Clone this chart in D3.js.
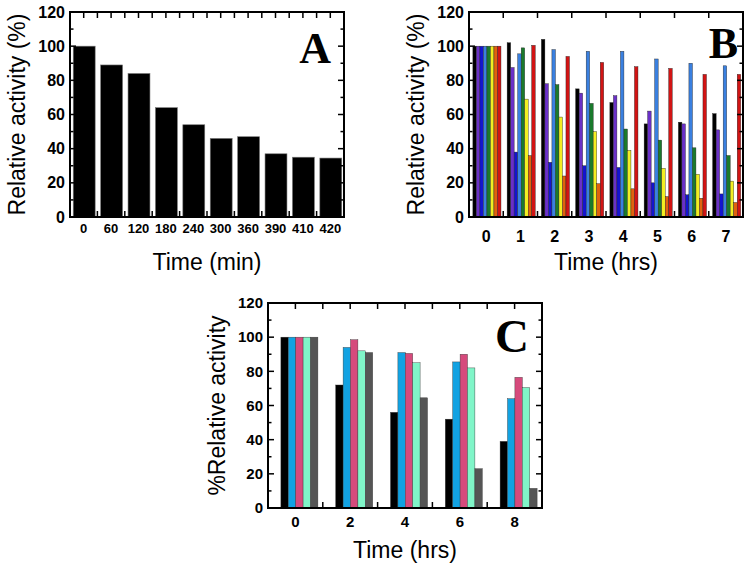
<!DOCTYPE html>
<html><head><meta charset="utf-8">
<script src="https://cdn.jsdelivr.net/npm/d3@7/dist/d3.min.js"></script>
<style>body{margin:0;background:#fff}svg{display:block}</style>
</head><body>
<svg id="c" width="750" height="565"></svg>
<script>
// ---- Data ----
const timeA = ["0","60","120","180","240","300","360","390","410","420"];
const activityA = [100, 89, 84, 64, 54, 46, 47, 37, 35, 34.5];

const timeB = ["0","1","2","3","4","5","6","7"];
const seriesBNames = ["black","purple","blue","lightblue","green","yellow","orange","red"];
const seriesBColors = ["#000000","#6a30c8","#1414d0","#3a80e0","#1a7a2c","#f2ee22","#e0620e","#d21414"];
const bBlack     = [100, 102, 104, 75, 67, 54.5, 55.5, 60.5];
const bPurple    = [100, 87.5, 78, 72.5, 71, 62, 54.5, 51];
const bBlue      = [100, 38, 32, 30, 29, 20, 13, 13.5];
const bLightBlue = [100, 95.5, 98, 97, 97, 92.5, 90, 88.5];
const bGreen     = [100, 99, 77.5, 66.5, 51.5, 45, 40.5, 36];
const bYellow    = [100, 69, 58.5, 50, 39, 28.5, 25, 21];
const bOrange    = [100, 36, 24, 19.5, 16.5, 12, 11, 8.5];
const bRed       = [100, 100.5, 94, 90.5, 88, 87, 83.5, 83.5];

const timeC = ["0","2","4","6","8"];
const seriesCColors = ["#000000","#12a2e2","#d64a7c","#80f5c8","#555555"];
const cBlack = [100, 72, 56, 52, 39];
const cBlue  = [100, 94, 91, 85.5, 64];
const cPink  = [100, 98.5, 90.5, 90, 76.5];
const cAqua  = [100, 92, 85, 82, 70.5];
const cGray  = [100, 91, 64.5, 23, 11.5];

const yTicks = [0, 20, 40, 60, 80, 100, 120];

const svg = d3.select("#c");
const FONT = "'Liberation Sans', Arial, sans-serif";

function frame(g, x0, x1, y0, y1, y, bandScale, topHalf, label, labelSize, xTitle, yTitle, opts) {
  d3.range(0, 121, 10).forEach(v => {
    const len = v % 20 === 0 ? 6 : 3.5;
    g.append("line").attr("x1", x0).attr("x2", x0 + len).attr("y1", y(v)).attr("y2", y(v)).attr("stroke", "#000").attr("stroke-width", 1.5);
    g.append("line").attr("x1", x1).attr("x2", x1 - len).attr("y1", y(v)).attr("y2", y(v)).attr("stroke", "#000").attr("stroke-width", 1.5);
  });
  const dom = bandScale.domain();
  const step = bandScale.step();
  for (let i = 1; i < dom.length; i++) {
    const xx = bandScale(dom[i]);
    g.append("line").attr("x1", xx).attr("x2", xx).attr("y1", y1).attr("y2", y1 - 6).attr("stroke", "#000").attr("stroke-width", 1.5);
  }
  const n = topHalf ? dom.length * 2 : dom.length;
  const st = topHalf ? step / 2 : step;
  for (let k = 1; k < n; k++) {
    const xx = x0 + st * k;
    g.append("line").attr("x1", xx).attr("x2", xx).attr("y1", y0).attr("y2", y0 + 6).attr("stroke", "#000").attr("stroke-width", 1.5);
  }
  g.append("rect").attr("x", x0).attr("y", y0).attr("width", x1 - x0).attr("height", y1 - y0)
    .attr("fill", "none").attr("stroke", "#000").attr("stroke-width", 2);
  const yAxis = d3.axisLeft(y).tickValues(yTicks).tickSize(0).tickPadding(opts.yPad);
  const ya = g.append("g").attr("transform", `translate(${x0},0)`).call(yAxis);
  ya.select(".domain").remove();
  ya.selectAll("text").attr("font-family", FONT).attr("font-weight", "bold").attr("font-size", opts.yFont).attr("fill", "#000");
  const xAxis = d3.axisBottom(bandScale).tickSize(0).tickPadding(opts.xPad);
  const xa = g.append("g").attr("transform", `translate(0,${y1})`).call(xAxis);
  xa.select(".domain").remove();
  xa.selectAll("text").attr("font-family", FONT).attr("font-weight", "bold").attr("font-size", opts.xFont).attr("fill", "#000");
  g.append("text").attr("x", (x0 + x1) / 2).attr("y", opts.xTitleY).attr("text-anchor", "middle")
    .attr("font-family", FONT).attr("font-size", 23).attr("fill", "#000").text(xTitle);
  g.append("text").attr("transform", `translate(${opts.yTitleX},${(y0 + y1) / 2}) rotate(-90)`).attr("text-anchor", "middle")
    .attr("font-family", FONT).attr("font-size", 23).attr("fill", "#000").text(yTitle);
  g.append("text").attr("x", opts.labelX).attr("y", opts.labelY).attr("text-anchor", "end")
    .attr("font-family", "'Liberation Serif', 'Times New Roman', serif").attr("font-weight", "bold")
    .attr("font-size", labelSize).attr("fill", "#000").text(label);
}

// ---- Panel A ----
{
  const x0 = 70, x1 = 344, y0 = 12, y1 = 217;
  const g = svg.append("g");
  const x = d3.scaleBand().domain(timeA).range([x0, x1]).padding(0);
  const y = d3.scaleLinear().domain([0, 120]).range([y1, y0]);
  const bw = x.bandwidth() * 0.8;
  g.selectAll("rect.bar").data(activityA).join("rect").attr("class", "bar")
    .attr("x", (d, i) => x(timeA[i]) + (x.bandwidth() - bw) / 2 + 0.5)
    .attr("y", d => y(d)).attr("width", bw).attr("height", d => y(0) - y(d))
    .attr("fill", "#000").attr("stroke", "#777").attr("stroke-width", 0.6);
  frame(g, x0, x1, y0, y1, y, x, true, "A", 44, "Time (min)", "Relative activity (%)",
    {yPad: 5, yFont: 16, xPad: 7, xFont: 13, xTitleY: 270, yTitleX: 25, labelX: 331, labelY: 63});
}

// ---- Panel B ----
{
  const x0 = 469, x1 = 743, y0 = 12, y1 = 217;
  const g = svg.append("g");
  const x = d3.scaleBand().domain(timeB).range([x0, x1]).padding(0);
  const y = d3.scaleLinear().domain([0, 120]).range([y1, y0]);
  const series = [bBlack, bPurple, bBlue, bLightBlue, bGreen, bYellow, bOrange, bRed];
  const gw = x.bandwidth() * 0.82;
  const xs = d3.scaleBand().domain(seriesBNames).range([0, gw]).padding(0);
  series.forEach((vals, si) => {
    g.selectAll(null).data(vals).join("rect")
      .attr("x", (d, i) => x(timeB[i]) + (x.bandwidth() - gw) / 2 + 0.8 + xs(seriesBNames[si]))
      .attr("y", d => y(d)).attr("width", xs.bandwidth()).attr("height", d => y(0) - y(d))
      .attr("fill", seriesBColors[si]).attr("stroke", "#222").attr("stroke-width", 0.4);
  });
  frame(g, x0, x1, y0, y1, y, x, false, "B", 44, "Time (hrs)", "Relative activity (%)",
    {yPad: 5, yFont: 16, xPad: 14, xFont: 16, xTitleY: 270, yTitleX: 424, labelX: 738, labelY: 58});
}

// ---- Panel C ----
{
  const x0 = 268, x1 = 542, y0 = 303, y1 = 508;
  const g = svg.append("g");
  const x = d3.scaleBand().domain(timeC).range([x0, x1]).padding(0);
  const y = d3.scaleLinear().domain([0, 120]).range([y1, y0]);
  const series = [cBlack, cBlue, cPink, cAqua, cGray];
  const names = ["s0","s1","s2","s3","s4"];
  const gw = 37;
  const xs = d3.scaleBand().domain(names).range([0, gw]).padding(0);
  series.forEach((vals, si) => {
    g.selectAll(null).data(vals).join("rect")
      .attr("x", (d, i) => x(timeC[i]) + (x.bandwidth() - gw) / 2 + 4 + xs(names[si]))
      .attr("y", d => y(d)).attr("width", xs.bandwidth()).attr("height", d => y(0) - y(d))
      .attr("fill", seriesCColors[si]).attr("stroke", "#333").attr("stroke-width", 0.4);
  });
  frame(g, x0, x1, y0, y1, y, x, true, "C", 47, "Time (hrs)", "%Relative activity",
    {yPad: 5, yFont: 15, xPad: 8, xFont: 15, xTitleY: 558, yTitleX: 225, labelX: 529, labelY: 352});
}
</script>
</body></html>
